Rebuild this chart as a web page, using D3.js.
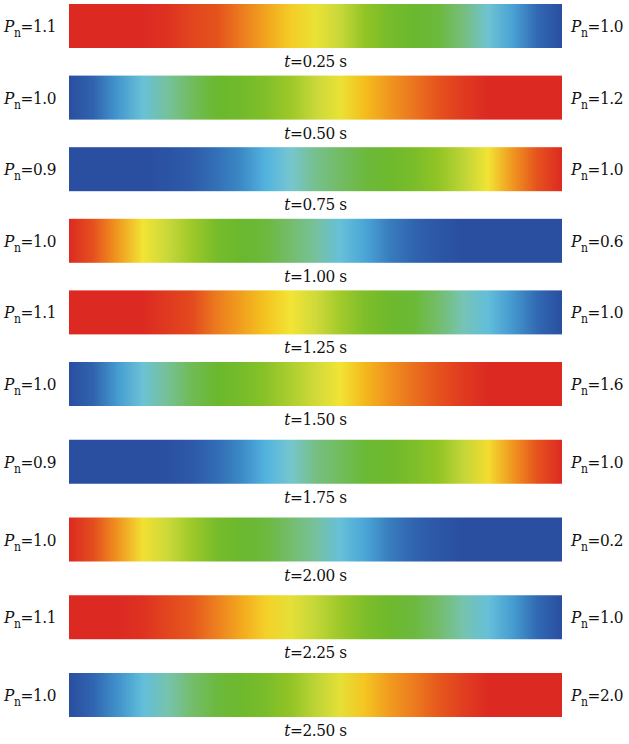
<!DOCTYPE html>
<html>
<head>
<meta charset="utf-8">
<script src="https://cdn.jsdelivr.net/npm/d3@7"></script>
<style>
  body { margin: 0; background: #fff; }
</style>
</head>
<body>
<div id="chart"></div>
<script>
// time of each snapshot and the normalised pressure at both ends
const times = [0.25, 0.50, 0.75, 1.00, 1.25, 1.50, 1.75, 2.00, 2.25, 2.50];
const leftPn = ['1.1', '1.0', '0.9', '1.0', '1.1', '1.0', '0.9', '1.0', '1.1', '1.0'];
const rightPn = ['1.0', '1.2', '1.0', '0.6', '1.0', '1.6', '1.0', '0.2', '1.0', '2.0'];

// colour level (0 = dark blue ... 13 = red) read every 5 % along each bar
const samplePos = d3.range(21).map(i => i / 20);
const levels = [
    [13, 13, 13, 13, 12.8, 12.3, 12, 11.3, 10.5, 9.6, 8.8, 8, 7, 6.3, 6, 5.8, 5, 3.8, 2.5, 1, 0],
    [0, 0.8, 2.3, 3.6, 4.6, 5.4, 6, 6.2, 6.6, 7.2, 8, 8.8, 10, 10.8, 11.4, 12, 12.6, 13, 13, 13, 13],
    [0, 0, 0, 0, 0.2, 0.5, 1.2, 2, 2.9, 4, 4.8, 5.3, 5.8, 6.1, 6.4, 7, 7.8, 9, 10.8, 12, 13],
    [13, 12, 10.7, 9, 8, 7.2, 6.3, 6, 5.8, 5.2, 4.6, 3.5, 2.6, 1.6, 0.8, 0.3, 0, 0, 0, 0, 0],
    [13, 13, 13, 13, 12.6, 12.2, 11.3, 10.6, 9.8, 9, 8.2, 7.3, 6.5, 6.1, 5.9, 5.2, 4.3, 3.4, 2.3, 1, 0],
    [0, 0.8, 2.4, 3.7, 4.7, 5.5, 6, 6.3, 6.8, 7.5, 8.2, 9, 10.1, 10.9, 11.5, 12, 12.6, 13, 13, 13, 13],
    [0, 0, 0, 0, 0.1, 0.4, 1.1, 2, 2.9, 4, 4.9, 5.4, 5.9, 6.1, 6.5, 7, 7.9, 9.2, 10.8, 12, 13],
    [13, 12.1, 10.8, 9.1, 8.1, 7.2, 6.3, 6, 5.8, 5.2, 4.6, 3.5, 2.6, 1.6, 0.8, 0.3, 0, 0, 0, 0, 0],
    [13, 13, 13, 12.8, 12.3, 11.9, 11.2, 10.4, 9.5, 8.7, 7.9, 7.2, 6.5, 6.1, 5.8, 5.2, 4.4, 3.5, 2.4, 1, 0],
    [0, 0.9, 2.2, 3.4, 4.4, 5.2, 5.8, 6.1, 6.4, 7, 7.8, 8.7, 9.8, 10.7, 11.3, 11.9, 12.5, 13, 13, 13, 13]
];

const palette = ['#2a4ea0', '#3169b3', '#3c8ac6', '#55b9e2', '#76c6cf', '#76be7c', '#6ab82e',
    '#92c425', '#c8d83a', '#f2e435', '#f5bd1c', '#ef8c20', '#e5521d', '#dc2a22'];

const svgWidth = 629;
const svgHeight = 744;
const barHeight = 44;
const serif = 'DejaVu Serif Condensed, DejaVu Serif, serif';

const color = d3.scaleLinear()
    .domain(d3.range(palette.length))
    .range(palette)
    .interpolate(d3.interpolateRgb);

const x = d3.scaleLinear().domain([0, 1]).range([69, 562]);
// rows are a bit further apart in the lower part of the figure
const y = d3.scaleLinear().domain([0, 5, 9]).range([4, 362, 673]);

const svg = d3.select('#chart')
    .append('svg')
    .attr('width', svgWidth)
    .attr('height', svgHeight);

const defs = svg.append('defs');

times.forEach((t, i) => {
    const grad = defs.append('linearGradient')
        .attr('id', 'grad' + i)
        .attr('gradientUnits', 'userSpaceOnUse')
        .attr('x1', x(0)).attr('x2', x(1))
        .attr('y1', 0).attr('y2', 0);
    grad.selectAll('stop')
        .data(samplePos)
        .enter()
        .append('stop')
        .attr('offset', d => (x(d) - x(0)) / (x(1) - x(0)))
        .attr('stop-color', (d, j) => color(levels[i][j]));
});

const rows = svg.selectAll('.row')
    .data(times)
    .enter()
    .append('g')
    .attr('class', 'row')
    .attr('transform', (d, i) => `translate(0, ${y(i)})`);

rows.append('rect')
    .attr('x', x(0))
    .attr('y', 0)
    .attr('width', x(1) - x(0))
    .attr('height', barHeight)
    .attr('fill', (d, i) => `url(#grad${i})`);

function pnLabel(sel, anchorX, anchor, valueOf) {
    const txt = sel.append('text')
        .attr('x', anchorX)
        .attr('y', barHeight / 2 + 6)
        .attr('text-anchor', anchor)
        .attr('fill', '#111')
        .attr('font-family', serif)
        .attr('font-stretch', 'condensed')
        .attr('font-size', 17)
        .attr('letter-spacing', -0.4);
    txt.append('tspan').attr('font-style', 'italic').text('P');
    txt.append('tspan').attr('dy', 5).attr('font-size', 12).text('n');
    txt.append('tspan').attr('dy', -5).text((d, i) => '=' + valueOf(i));
}

pnLabel(rows, 56, 'end', i => leftPn[i]);
pnLabel(rows, 571, 'start', i => rightPn[i]);

const tl = rows.append('text')
    .attr('x', (x(0) + x(1)) / 2)
    .attr('y', barHeight + 19)
    .attr('text-anchor', 'middle')
    .attr('fill', '#111')
    .attr('font-family', serif)
    .attr('font-stretch', 'condensed')
    .attr('font-size', 17)
    .attr('letter-spacing', -0.4);
tl.append('tspan').attr('font-style', 'italic').text('t');
tl.append('tspan').text(d => '=' + d.toFixed(2) + ' s');
</script>
</body>
</html>
